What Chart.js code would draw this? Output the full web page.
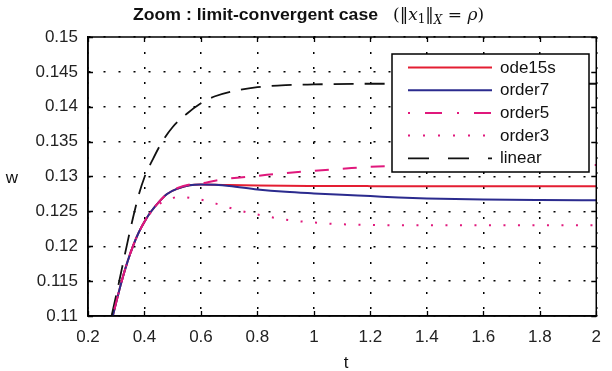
<!DOCTYPE html>
<html>
<head>
<meta charset="utf-8">
<script src="https://cdn.jsdelivr.net/npm/chart.js@4.4.1/dist/chart.umd.min.js"></script>
<style>
  html, body { margin: 0; padding: 0; background: #fff; }
  canvas { display: block; }
</style>
</head>
<body>
<canvas id="chart" width="612" height="371"></canvas>
<script>
// tick values
const xTicks = [0.2, 0.4, 0.6, 0.8, 1, 1.2, 1.4, 1.6, 1.8, 2];
const yTicks = [0.11, 0.115, 0.12, 0.125, 0.13, 0.135, 0.14, 0.145, 0.15];

// ode15s (reference solution)
const tOde15s = [0.27, 0.28, 0.30, 0.32, 0.34, 0.36, 0.38, 0.40, 0.42, 0.45, 0.48, 0.52, 0.56, 0.60, 0.65, 0.70, 0.80, 0.90, 1.0, 1.2, 1.4, 1.6, 1.8, 2.0];
const wOde15s = [0.1070, 0.1087, 0.1120, 0.1151, 0.1178, 0.1201, 0.1220, 0.1235, 0.1248, 0.1263, 0.1275, 0.1283, 0.12875, 0.12884, 0.12882, 0.12877, 0.12870, 0.12866, 0.12864, 0.12862, 0.12862, 0.12862, 0.12862, 0.12862];

// order 7
const tOrder7 = [0.27, 0.28, 0.30, 0.32, 0.34, 0.36, 0.38, 0.40, 0.42, 0.45, 0.48, 0.52, 0.56, 0.60, 0.65, 0.70, 0.80, 0.90, 1.0, 1.1, 1.2, 1.3, 1.4, 1.6, 1.8, 2.0];
const wOrder7 = [0.1070, 0.1087, 0.1120, 0.1151, 0.1178, 0.1201, 0.1220, 0.1235, 0.1248, 0.1263, 0.1275, 0.1283, 0.12875, 0.12886, 0.12880, 0.12865, 0.12815, 0.12780, 0.12757, 0.12737, 0.12719, 0.12700, 0.12685, 0.12670, 0.12663, 0.12660];

// order 5
const tOrder5 = [0.27, 0.28, 0.30, 0.32, 0.34, 0.36, 0.38, 0.40, 0.42, 0.45, 0.48, 0.52, 0.56, 0.60, 0.65, 0.70, 0.80, 0.90, 1.0, 1.1, 1.2, 1.4, 1.6, 1.8, 2.0];
const wOrder5 = [0.1070, 0.1087, 0.1120, 0.1151, 0.1178, 0.1201, 0.1220, 0.1235, 0.1248, 0.1263, 0.1275, 0.1284, 0.12885, 0.1290, 0.1294, 0.1297, 0.1301, 0.1305, 0.1308, 0.1311, 0.1314, 0.13152, 0.1316, 0.13163, 0.13166];

// order 3
const tOrder3 = [0.27, 0.28, 0.30, 0.32, 0.34, 0.36, 0.38, 0.40, 0.42, 0.45, 0.50, 0.52, 0.57, 0.62, 0.67, 0.72, 0.77, 0.82, 0.87, 0.92, 0.97, 1.02, 1.07, 1.15, 1.3, 1.6, 2.0];
const wOrder3 = [0.1070, 0.1087, 0.1120, 0.1151, 0.1178, 0.1201, 0.1220, 0.1235, 0.1247, 0.1260, 0.1269, 0.1271, 0.1269, 0.1265, 0.1259, 0.1253, 0.1248, 0.1244, 0.1240, 0.1237, 0.1235, 0.12335, 0.1232, 0.1231, 0.1230, 0.1230, 0.1230];

// linear
const tLinear = [0.26, 0.28, 0.30, 0.32, 0.34, 0.36, 0.38, 0.40, 0.43, 0.46, 0.50, 0.55, 0.60, 0.65, 0.70, 0.80, 0.90, 1.0, 1.2, 1.6, 2.0];
const wLinear = [0.1058, 0.1094, 0.1130, 0.1168, 0.1206, 0.1242, 0.1274, 0.1299, 0.1325, 0.1348, 0.1371, 0.1390, 0.1405, 0.1415, 0.1421, 0.1428, 0.1431, 0.1432, 0.1433, 0.1433, 0.1433];

const seriesNames = ['ode15s', 'order7', 'order5', 'order3', 'linear'];

// styles
const RED = '#e41e32';
const NAVY = '#2b2b8e';
const MAGENTA = '#e0187c';
const BLACK = '#111';

const pts = (ts, ws) => ts.map((t, i) => ({ x: t, y: ws[i] }));

const datasets = [
  { label: seriesNames[0], data: pts(tOde15s, wOde15s), borderColor: RED, borderWidth: 2, order: 2 },
  { label: seriesNames[1], data: pts(tOrder7, wOrder7), borderColor: NAVY, borderWidth: 2, order: 1 },
  { label: seriesNames[2], data: pts(tOrder5, wOrder5), borderColor: MAGENTA, borderWidth: 2, borderDash: [14, 14], order: 0 },
  { label: seriesNames[3], data: pts(tOrder3, wOrder3), borderColor: MAGENTA, borderWidth: 2, borderDash: [2, 12.5], order: 0 },
  { label: seriesNames[4], data: pts(tLinear, wLinear), borderColor: BLACK, borderWidth: 1.8, borderDash: [20, 11], order: 0 }
];

const legendDash = [[], [], [17, 15, 2, 15], [2, 13], [21, 19]];
const legendOffset = [0, 0, 32, 0, 0];

const FONT = '"Liberation Sans", Arial, sans-serif';

const framePlugin = {
  id: 'frame',
  afterDatasetsDraw(chart) {
    const { ctx, chartArea: a, scales } = chart;
    ctx.save();
    ctx.strokeStyle = '#000';
    ctx.lineWidth = 1.5;
    ctx.setLineDash([]);
    ctx.strokeRect(a.left, a.top, a.right - a.left, a.bottom - a.top);
    ctx.lineWidth = 1.3;
    ctx.beginPath();
    xTicks.forEach(v => {
      const px = Math.round(scales.x.getPixelForValue(v)) + 0.5;
      ctx.moveTo(px, a.bottom); ctx.lineTo(px, a.bottom - 5);
      ctx.moveTo(px, a.top); ctx.lineTo(px, a.top + 5);
    });
    yTicks.forEach(v => {
      const py = Math.round(scales.y.getPixelForValue(v)) + 0.5;
      ctx.moveTo(a.left, py); ctx.lineTo(a.left + 5, py);
      ctx.moveTo(a.right, py); ctx.lineTo(a.right - 5, py);
    });
    ctx.stroke();
    ctx.restore();
  },
  afterDraw(chart) {
    const { ctx } = chart;
    ctx.save();
    // legend box
    const bx = 392, by = 54, bw = 197, bh = 118;
    ctx.fillStyle = '#fff';
    ctx.fillRect(bx, by, bw, bh);
    ctx.strokeStyle = '#000';
    ctx.lineWidth = 1.5;
    ctx.strokeRect(bx, by, bw, bh);
    chart.data.datasets.forEach((ds, i) => {
      const y = 67.5 + i * 22.7;
      ctx.save();
      ctx.strokeStyle = ds.borderColor;
      ctx.lineWidth = ds.borderWidth;
      ctx.setLineDash(legendDash[i]);
      ctx.lineDashOffset = legendOffset[i];
      ctx.beginPath();
      ctx.moveTo(408, y);
      ctx.lineTo(492, y);
      ctx.stroke();
      ctx.restore();
      ctx.fillStyle = '#111';
      ctx.font = '17px ' + FONT;
      ctx.textBaseline = 'middle';
      ctx.textAlign = 'left';
      ctx.fillText(ds.label, 500, y + 0.5);
    });

    // axis labels
    ctx.fillStyle = '#111';
    ctx.font = '17px ' + FONT;
    ctx.textAlign = 'center';
    ctx.textBaseline = 'middle';
    ctx.fillText('w', 12, 178);
    ctx.fillText('t', 346, 363);

    // title: bold text (stretched to the reference width) then a math expression
    ctx.textAlign = 'left';
    ctx.textBaseline = 'alphabetic';
    ctx.font = 'bold 17px ' + FONT;
    const titleText = 'Zoom : limit-convergent case';
    const tw = ctx.measureText(titleText).width;
    ctx.save();
    ctx.translate(133, 20);
    ctx.scale(245 / tw, 1);
    ctx.fillText(titleText, 0, 0);
    ctx.restore();
    const serif = '"DejaVu Serif", "Liberation Serif", serif';
    const parts = [
      { s: '(‖', f: '17px ' + serif, dy: 0 },
      { s: 'x', f: 'italic 17px ' + serif, dy: 0 },
      { s: '1', f: '12px ' + serif, dy: 3 },
      { s: '‖', f: '17px ' + serif, dy: 0 },
      { s: 'X', f: 'italic 12px ' + serif, dy: 4 },
      { s: ' = ', f: '17px ' + serif, dy: 0 },
      { s: 'ρ', f: 'italic 17px ' + serif, dy: 0 },
      { s: ')', f: '17px ' + serif, dy: 0 }
    ];
    let x = 393;
    parts.forEach(p => {
      ctx.font = p.f;
      ctx.fillText(p.s, x, 20 + p.dy);
      x += ctx.measureText(p.s).width;
    });
    ctx.restore();
  }
};

const gridOpts = { color: '#000', lineWidth: 1.5, drawTicks: false };
const borderOpts = { display: true, color: '#000', width: 1.5, dash: [2, 13] };
const tickFont = { family: FONT, size: 17 };

new Chart(document.getElementById('chart'), {
  type: 'line',
  data: { datasets },
  options: {
    responsive: false,
    animation: false,
    devicePixelRatio: 1,
    layout: { padding: { left: 0, top: 37, right: 8, bottom: 0 } },
    elements: {
      point: { radius: 0 },
      line: { cubicInterpolationMode: 'monotone', borderCapStyle: 'butt' }
    },
    plugins: {
      legend: { display: false },
      title: { display: false },
      tooltip: { enabled: false }
    },
    scales: {
      x: {
        type: 'linear',
        min: 0.2,
        max: 2,
        afterBuildTicks: s => { s.ticks = xTicks.map(v => ({ value: v })); },
        afterFit: s => { s.height = 55; },
        grid: gridOpts,
        border: borderOpts,
        ticks: { font: tickFont, color: '#222', padding: 11, maxRotation: 0, callback: v => String(v) }
      },
      y: {
        type: 'linear',
        min: 0.11,
        max: 0.15,
        afterBuildTicks: s => { s.ticks = yTicks.map(v => ({ value: v })); },
        afterFit: s => { s.width = 88; },
        grid: gridOpts,
        border: borderOpts,
        ticks: { font: tickFont, color: '#222', padding: 10, callback: v => String(v) }
      }
    }
  },
  plugins: [framePlugin]
});
</script>
</body>
</html>
